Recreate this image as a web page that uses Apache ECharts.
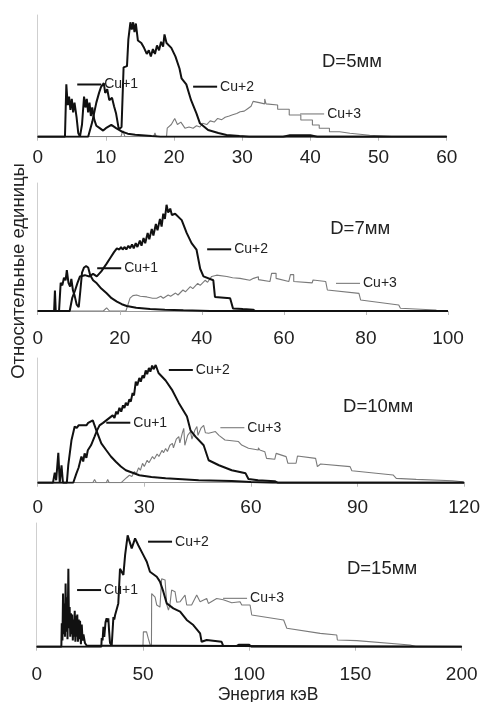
<!DOCTYPE html>
<html><head><meta charset="utf-8">
<script src="https://cdn.jsdelivr.net/npm/echarts@6/dist/echarts.min.js"></script>
<style>html,body{margin:0;padding:0;background:#fff}#c{width:483px;height:702px}</style>
</head><body><div id="c"></div>
<script>
// ---- data (energy keV, relative units) ----
const p1Cu1 = [[0,0],[4.0,0],[4.2,43],[4.4,26],[4.6,33],[4.8,22],[5.0,31],[5.2,20],[5.4,28],[5.7,16],[5.95,3],[6.2,0],[6.5,10],[6.8,33],[7.0,24],[7.2,31],[7.4,20],[7.6,28],[7.8,17],[8.0,24],[8.3,14],[8.6,9],[9.1,7],[9.6,5],[10.0,7],[10.8,9.7],[11.5,7],[12.3,4.3],[13.2,2.5],[14.3,1.6],[16.7,0.5],[18,0],[60,0]];
const p1Cu2 = [[0,0],[7.4,0],[8.0,12],[8.6,28],[9.0,36],[9.3,41],[9.7,44],[9.9,36],[10.2,39],[10.5,30],[10.9,32],[11.2,25],[11.5,19],[11.9,6],[12.3,8],[12.6,57],[13.1,58],[13.3,80],[13.6,94],[13.8,88],[14.0,94],[14.2,86],[14.4,93],[14.7,79],[15.2,77],[15.6,73],[16.0,68],[16.3,71],[16.6,66],[16.9,72],[17.2,68],[17.5,75],[17.8,71],[18.1,78],[18.4,74],[18.6,84],[18.9,77],[19.6,73],[20.2,66],[20.8,56],[21.1,48],[21.8,43],[22.5,30],[23.3,19],[23.8,11],[25,5.5],[26.5,3],[27.7,1.4],[29.6,0.5],[31,0],[36,0],[37,1.2],[40,1.2],[41,0],[60,0]];
const p1Cu3 = [[0,0],[12.2,0],[12.5,5],[12.8,0],[17.0,0],[17.2,3],[17.4,0],[18.9,0],[19.0,7],[19.6,10],[20.1,15],[20.5,10],[21.0,12],[21.6,7],[22.2,8],[22.8,7],[23.3,9],[23.8,8],[24.2,11],[24.8,10],[25.3,13],[25.9,12],[26.4,15],[27.0,14],[27.5,16],[28.1,17],[28.6,18],[29.2,19],[29.7,20.5],[30.3,21],[30.8,23],[31.3,25],[31.6,29],[32.5,28],[33.3,27],[33.3,31],[33.5,27],[35.2,26],[35.2,22.5],[36.9,22.5],[36.9,17.8],[38.6,17.8],[38.6,13.7],[40.3,13.7],[40.3,9.6],[41.3,9.6],[41.3,6.9],[42.8,6.9],[42.8,4.1],[44.3,4.1],[44.3,2.8],[45.8,2.8],[45.8,1.9],[48.7,1.2],[52.6,0],[60,0]];

const p2Cu1 = [[0,0],[4.0,0],[4.2,16],[4.4,0],[5.2,0],[5.6,22],[6.0,20],[6.4,26],[6.8,24],[7.1,32],[7.5,22],[7.9,19],[8.2,25],[8.6,16],[9.0,12],[9.5,5],[10.0,3],[10.4,16],[10.8,30],[11.3,34],[11.8,35],[12.3,34],[12.8,28],[13.5,24],[14.4,21.6],[15.5,17.5],[16.8,13.8],[18.0,10],[19.3,7.3],[20.5,5.3],[21.7,3.9],[24,2.5],[27.4,1.6],[31,1],[35.5,0.5],[42,0],[100,0]];
const p2Cu2 = [[0,0],[7.8,0],[8.4,10],[9.1,16],[9.7,22],[10.3,27],[11.5,28],[12.6,27],[13.5,29],[14.4,27],[15.5,31],[16.8,37],[17.8,42],[18.6,46],[19.3,49],[19.9,48],[20.3,50],[20.7,48],[21.2,50],[21.6,48],[22.1,51],[22.5,49],[23.0,52],[23.4,49],[23.9,53],[24.3,50],[24.9,55],[25.3,51],[25.8,57],[26.2,53],[26.8,61],[27.2,56],[27.8,64],[28.2,59],[28.8,68],[29.2,63],[29.8,72],[30.2,66],[30.6,76],[31.0,72],[31.4,83],[31.8,77],[32.3,80],[32.7,75],[33.5,76],[35.1,71],[36.3,61],[37.5,53],[38.7,48],[39.6,33],[40.4,27],[42.8,24],[43.2,11],[46.9,10],[47.6,2],[50,1.5],[52.5,1],[53,0],[100,0]];
const p2Cu3 = [[0,0],[16.0,0],[16.8,2.5],[17.5,0],[21.5,0],[22.5,10],[23.2,12],[24.1,12.5],[25.0,11.5],[26.6,11],[28.0,10],[29.0,10],[30.0,11.5],[30.6,10],[31.8,12.5],[32.4,11.5],[33.6,14],[34.2,12.5],[35.4,16.4],[36.0,15],[37.2,19],[37.8,17.5],[39.0,21.6],[39.6,20],[40.8,24],[41.4,22.5],[42.4,27],[43.6,28],[46.1,27],[47.5,26],[49.3,25.5],[51.7,24],[52.6,25.5],[52.6,26.8],[53.8,26.8],[53.8,24.5],[56.6,23],[57.0,23],[57.0,29.4],[58.1,29.4],[58.1,25.5],[61.2,23],[61.6,23],[61.6,28.4],[62.4,28.4],[62.4,23],[66.9,22],[67.1,24.2],[70.2,23],[70.6,16.4],[78.3,13.8],[78.7,8.6],[88.0,4.7],[88.4,2.1],[97,0.8],[97.5,0],[100,0]];

const p3Cu1 = [[0,0],[4.3,0],[4.8,8],[5.2,2],[5.8,24],[6.2,0],[6.7,14],[7.1,0],[8.2,0],[8.6,14],[9.5,34],[10.0,40],[10.4,45],[11.0,44],[11.5,46],[12.0,45],[12.7,46],[13.2,47],[13.7,46],[14.2,48],[14.6,49],[15.5,50],[16.5,42],[17.9,31.5],[19.3,26],[20.6,21],[22,16.8],[23.4,13],[24.8,10],[26.7,8],[28.6,6],[32,4.5],[36,3.5],[45.3,2],[54.6,1.3],[60,0.5],[66,0],[120,0]];
const p3Cu2 = [[0,0],[10.0,0],[10.9,7.5],[11.5,12],[12.3,21],[12.8,17],[13.2,23.5],[13.7,20],[14.1,26],[15.0,30],[16.0,37],[16.7,42],[17.4,46],[18.4,48],[19.3,50],[20.2,52],[21.1,54],[21.6,52],[22.1,57],[22.5,55],[23.0,60],[23.5,57],[24.0,62],[24.4,60],[24.8,64],[25.3,62],[25.8,67],[26.2,65],[26.7,72],[27.1,70],[27.6,81],[28.0,78],[28.6,84],[29.0,81],[29.5,86],[29.9,84],[30.4,90],[30.8,87],[31.3,92],[31.7,89],[32.2,94],[32.6,91],[33.2,94.4],[34.0,88],[35.0,85],[36,82],[37.9,74],[39.7,64],[42,53],[43.0,42],[44.4,37],[46.7,30],[48.1,18],[51,14],[54.6,10],[58.5,7.5],[59.3,3],[62,2],[66.7,1.2],[67.5,0],[120,0]];
const p3Cu3 = [[0,0],[15.5,0],[16,2.5],[16.5,0],[19.3,0],[19.7,2.5],[20.1,0],[23.5,0],[25.0,4],[25.8,6],[26.5,5],[27.2,9],[27.7,7],[28.4,12],[28.9,10],[29.5,15.5],[30.0,13],[30.8,18],[31.3,16],[32.3,21],[32.8,19],[33.6,23],[34.1,21],[35.0,26],[35.4,24],[36.0,27.5],[36.5,25],[37.2,30],[37.9,31.5],[38.2,28],[39.0,35],[39.7,37],[40.0,32],[40.7,40],[41.1,43.6],[41.4,30],[42.2,38],[43,41],[43.4,35],[44.2,42],[44.8,45],[45.1,38],[46.0,44],[46.7,46],[47.2,40],[48.1,39.6],[50,41],[51,38],[52.7,34.2],[56.5,33],[57.4,30.2],[59.3,27.6],[62.1,26.2],[62.1,28],[62.5,26.2],[63.9,24.9],[64.4,19.5],[66.7,18.8],[67.1,23.5],[69.9,20.9],[70.4,15.6],[72.7,15.6],[73.1,21.4],[78.2,19.5],[78.7,12.9],[79.6,15],[87.9,12.9],[88.4,9.6],[100,6.2],[100.9,3.5],[106.5,2.7],[116.7,1.6],[119.5,0.8],[120,0]];

const p4Cu1 = [[0,0],[11.6,0],[11.8,19],[12.1,5],[12.4,43],[12.7,10],[13.0,35],[13.3,8],[13.6,51],[13.9,12],[14.2,40],[14.5,6],[14.9,63],[15.2,15],[15.5,32],[15.8,8],[16.1,27],[16.4,10],[16.7,26],[17.0,5],[17.3,22],[17.6,8],[17.9,29],[18.2,4],[18.5,25],[18.8,8],[19.1,26],[19.4,4],[19.8,22],[20.1,6],[20.4,21],[20.8,2],[21.2,18],[21.6,5],[22.0,10],[22.7,3],[23.5,1],[24.3,0],[200,0]];
const p4Cu2 = [[0,0],[30.4,0],[30.6,7],[31.0,5],[31.4,16],[31.8,8],[32.4,20],[32.9,23],[33.3,20],[33.7,23],[34.1,12],[34.5,3],[35.3,1],[35.9,0.5],[36.1,24],[36.5,22],[36.9,25.6],[37.6,24],[38.4,35],[39.2,63],[40.8,58],[41.6,74],[42.8,90],[44.7,79.5],[46.3,87.6],[47.8,82],[50.2,74],[51.8,68.7],[53.3,60.6],[54.1,61.5],[56.5,56.6],[58,52.6],[59.6,44.5],[61.2,35],[64.3,31],[67.5,28.3],[70.6,21.6],[73.7,17.5],[76.9,10.8],[77.6,4],[80,5.4],[87,4],[87.8,0.5],[94,0.5],[95,1.5],[100,1.5],[101,0],[200,0]];
const p4Cu3 = [[0,0],[50.0,0],[50.2,12],[51.7,12],[52.5,6.7],[53.3,2],[54.0,0],[54.1,43],[55.7,40],[56.5,33.7],[58,32],[58.8,55],[60.4,54],[61.2,34],[62,29.6],[62.7,34],[63.5,45.8],[65.1,44.5],[65.9,36],[67.5,36.4],[69.8,41.8],[70.6,33.7],[72.9,33.7],[75.3,41.8],[76.9,36.4],[80,39],[80.8,35],[84.7,39],[87.8,38],[88.5,39],[91.8,35.5],[95.7,36.4],[96.5,33.7],[100.4,33.7],[101.2,25.6],[116.2,21.6],[117.7,14.9],[133.4,10.8],[141.2,9.5],[141.5,5.4],[150.6,4.9],[175.7,1.4],[178.8,0],[200,0]];

const seriesNames = ['Cu+1','Cu+2','Cu+3'];
const panelData = [[p1Cu1,p1Cu2,p1Cu3],[p2Cu1,p2Cu2,p2Cu3],[p3Cu1,p3Cu2,p3Cu3],[p4Cu1,p4Cu2,p4Cu3]];
const xMax = [60,100,120,200];
const xStep = [10,20,30,50];
const panelTitles = ['D=5мм','D=7мм','D=10мм','D=15мм'];
// label anchors (data coords of leader-line start): [panel, seriesIndex, x, y]
const labelAnchors = [
  [0,0,5.8,42.9],[0,1,22.8,41.1],[0,2,38.5,18.7],
  [1,0,14.5,33.4],[1,1,41.3,48.2],[1,2,72.7,21.6],
  [2,0,19.3,48.1],[2,1,36.9,90.4],[2,2,51.4,44.1],
  [3,0,19.0,45.8],[3,1,52.4,84.9],[3,2,87.7,39.1]
];
const titleAnchors = [[46.1,61.6],[78.6,63.8],[95.8,60.9],[162.5,62.6]];
const yTitle = 'Относительные единицы';
const xTitle = 'Энергия кэВ';

// ---- layout ----
const FONT = "'Liberation Sans', Arial, sans-serif";
const grids = [
  {left:37.7, right:36.3, top:15, height:121.7},
  {left:37.7, right:35, top:183, height:128},
  {left:37.7, right:15.3, top:358, height:124.7},
  {left:36.7, right:21.3, top:523, height:123.7}
];
const labelMargins = [12, 18, 16, 19];

const chart = echarts.init(document.getElementById('c'), null, {renderer:'canvas'});
const xAxes = [], yAxes = [], series = [];
for (let i = 0; i < 4; i++) {
  xAxes.push({
    type:'value', gridIndex:i, min:0, max:xMax[i], interval:xStep[i],
    axisLine:{show:true, onZero:false, lineStyle:{color:'#999', width:1}},
    axisTick:{show:true, length:4, lineStyle:{color:'#bbb'}},
    axisLabel:{color:'#222', fontSize:19, fontFamily:FONT, margin:labelMargins[i]},
    splitLine:{show:false}
  });
  yAxes.push({
    type:'value', gridIndex:i, min:0, max:100,
    axisLine:{show:true, lineStyle:{color:'#cfcfcf', width:1}},
    axisTick:{show:false}, axisLabel:{show:false}, splitLine:{show:false}
  });
  const order = [2,0,1];
  order.forEach(s => {
    const gray = s === 2;
    series.push({
      type:'line', name:seriesNames[s], xAxisIndex:i, yAxisIndex:i,
      data:panelData[i][s], symbol:'none', animation:false,
      lineStyle:{color: gray ? '#7a7a7a' : '#111', width: gray ? 1.1 : 2},
      z: gray ? 2 : 3
    });
  });
}
chart.setOption({
  animation:false,
  grid:grids.map(g => Object.assign({containLabel:false}, g)),
  xAxis:xAxes, yAxis:yAxes, series:series
});

const graphic = [];
labelAnchors.forEach(a => {
  const p = chart.convertToPixel({gridIndex:a[0]}, [a[2], a[3]]);
  const gray = a[1] === 2;
  graphic.push({type:'line', shape:{x1:p[0], y1:p[1], x2:p[0]+24, y2:p[1]},
    style:{stroke: gray ? '#7a7a7a' : '#111', lineWidth: gray ? 1.1 : 2}, z:10});
  graphic.push({type:'text', x:p[0]+27, y:p[1],
    style:{text:seriesNames[a[1]], fill:'#222', font:'14px ' + FONT, textVerticalAlign:'middle', textAlign:'left'}, z:10});
});
titleAnchors.forEach((t, i) => {
  const p = chart.convertToPixel({gridIndex:i}, t);
  graphic.push({type:'text', x:p[0], y:p[1],
    style:{text:panelTitles[i], fill:'#222', font:'18.5px ' + FONT, textAlign:'center', textVerticalAlign:'middle'}, z:10});
});
graphic.push({type:'text', x:18.5, y:271, rotation:Math.PI/2,
  style:{text:yTitle, fill:'#222', font:'18.5px ' + FONT, textAlign:'center', textVerticalAlign:'middle'}});
graphic.push({type:'text', x:268, y:695,
  style:{text:xTitle, fill:'#222', font:'17.5px ' + FONT, textAlign:'center', textVerticalAlign:'middle'}});
chart.setOption({graphic:graphic});
</script></body></html>
